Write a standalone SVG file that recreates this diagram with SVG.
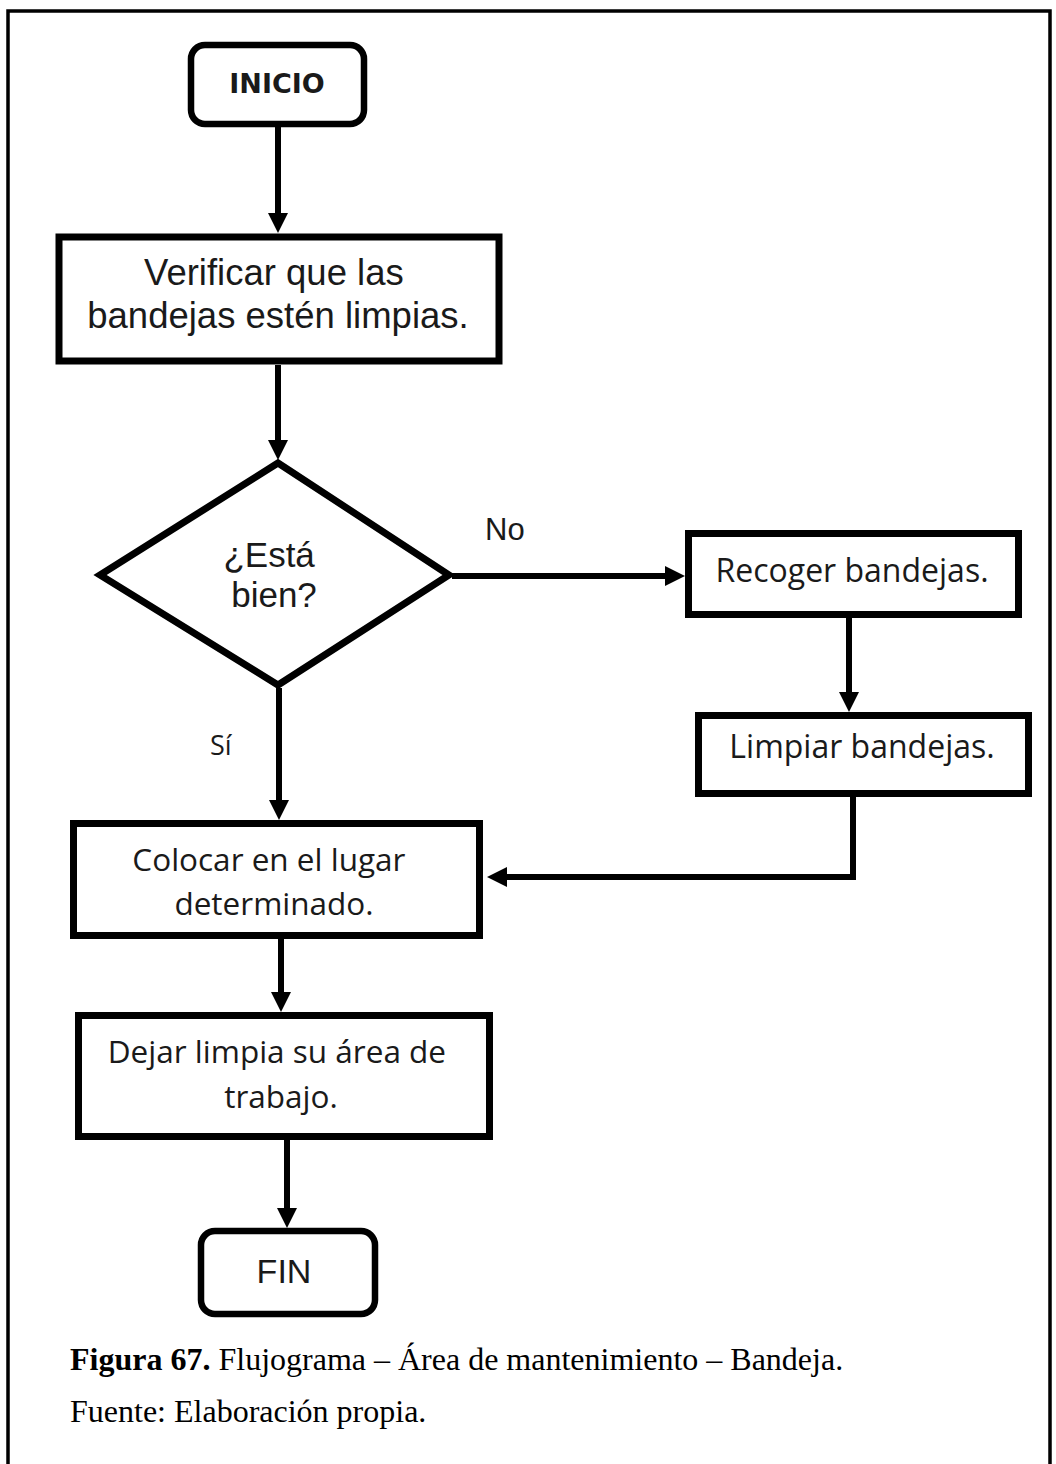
<svg xmlns="http://www.w3.org/2000/svg" width="1056" height="1464" viewBox="0 0 1056 1464">
  <defs>
    <marker id="arrow" markerUnits="userSpaceOnUse" markerWidth="22" markerHeight="22" refX="8" refY="10" orient="auto">
      <path d="M0,0 L20,10 L0,20 z" fill="#000"/>
    </marker>
    <style>
      .shape { fill: #fff; stroke: #000; stroke-width: 7; stroke-linejoin: miter; }
      .term { fill: #fff; stroke: #000; stroke-width: 6.5; }
      .edge { fill: none; stroke: #000; stroke-width: 6; stroke-linejoin: miter; }
      .arial { font-family: "Liberation Sans", Arial, sans-serif; fill: #1a1a1a; }
      .bold { font-family: "DejaVu Sans", Verdana, sans-serif; font-weight: bold; fill: #1a1a1a; }
      .cal { font-family: "Open Sans", "Noto Sans", sans-serif; fill: #1a1a1a; }
      .serif { font-family: "Liberation Serif", "Times New Roman", serif; fill: #000; }
    </style>
  </defs>

  <rect width="1056" height="1464" fill="#fff"/>

  <!-- page frame (open at the bottom) -->
  <path d="M8,1464 V11 H1050 V1464" fill="none" stroke="#000" stroke-width="3.5"/>

  <!-- connectors -->
  <g id="connectors">
    <path class="edge" d="M278,127 V221" marker-end="url(#arrow)"/>
    <path class="edge" d="M278,365 V448" marker-end="url(#arrow)"/>
    <path class="edge" d="M452,576 H673" marker-end="url(#arrow)"/>
    <path class="edge" d="M849,618 V700" marker-end="url(#arrow)"/>
    <path class="edge" d="M853,797 V877 H499" marker-end="url(#arrow)"/>
    <path class="edge" d="M279,688 V808" marker-end="url(#arrow)"/>
    <path class="edge" d="M281,939 V1000" marker-end="url(#arrow)"/>
    <path class="edge" d="M287,1140 V1216" marker-end="url(#arrow)"/>
  </g>

  <!-- nodes -->
  <g id="inicio">
    <rect class="term" x="191" y="45" width="173" height="79" rx="14"/>
    <text class="bold" x="277" y="93" font-size="27" text-anchor="middle">INICIO</text>
  </g>

  <g id="verificar">
    <rect class="shape" x="59" y="237" width="440" height="124"/>
    <text class="arial" font-size="36.5" text-anchor="middle">
      <tspan x="279" y="285">Verificar que las</tspan>
      <tspan x="278" y="328">bandejas estén limpias.</tspan>
    </text>
  </g>

  <g id="decision">
    <polygon class="shape" points="278,463 449,575 278,685 100,575"/>
    <text class="arial" font-size="35" text-anchor="middle">
      <tspan x="274" y="567">¿Está</tspan>
      <tspan x="274" y="607">bien?</tspan>
    </text>
  </g>

  <g id="label-no">
    <text class="arial" x="485" y="540" font-size="31">No</text>
  </g>

  <g id="label-si">
    <text class="cal" x="210" y="755" font-size="27">Sí</text>
  </g>

  <g id="recoger">
    <rect class="shape" x="688.5" y="533.5" width="330" height="81"/>
    <text class="cal" x="852" y="582" font-size="32" text-anchor="middle">Recoger bandejas.</text>
  </g>

  <g id="limpiar">
    <rect class="shape" x="698.5" y="715.5" width="330" height="78"/>
    <text class="cal" x="862" y="758" font-size="32" text-anchor="middle">Limpiar bandejas.</text>
  </g>

  <g id="colocar">
    <rect class="shape" x="73.5" y="823.5" width="406" height="112"/>
    <text class="cal" font-size="31.5" text-anchor="middle">
      <tspan x="273" y="871">Colocar en el lugar</tspan>
      <tspan x="274" y="915">determinado.</tspan>
    </text>
  </g>

  <g id="dejar">
    <rect class="shape" x="78.5" y="1015.5" width="411" height="121"/>
    <text class="cal" font-size="31.5" text-anchor="middle">
      <tspan x="281" y="1063">Dejar limpia su área de</tspan>
      <tspan x="281" y="1108">trabajo.</tspan>
    </text>
  </g>

  <g id="fin">
    <rect class="term" x="201" y="1231" width="174" height="83" rx="14"/>
    <text class="arial" x="284" y="1283" font-size="34" text-anchor="middle">FIN</text>
  </g>

  <!-- caption -->
  <g id="caption">
    <text class="serif" x="70" y="1370" font-size="32"><tspan font-weight="bold">Figura 67.</tspan> Flujograma – Área de mantenimiento – Bandeja.</text>
    <text class="serif" x="70" y="1422" font-size="32">Fuente: Elaboración propia.</text>
  </g>
</svg>
